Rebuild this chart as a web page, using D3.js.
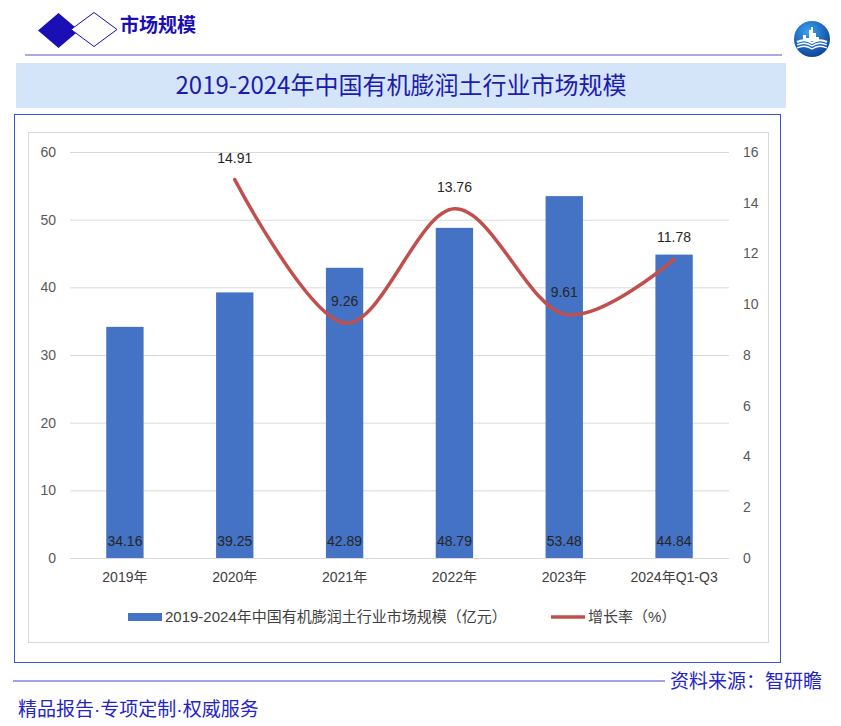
<!DOCTYPE html>
<html>
<head>
<meta charset="utf-8">
<script src="https://cdn.jsdelivr.net/npm/d3@7"></script>
<style>
  body { margin: 0; background: #fff; }
  text { font-family: "Liberation Sans", "Noto Sans CJK SC", sans-serif; }
  .cjk { font-family: "Noto Sans CJK SC", "Liberation Sans", sans-serif; }
</style>
</head>
<body>
<script>
// chart data
const years = ["2019年", "2020年", "2021年", "2022年", "2023年", "2024年Q1-Q3"];
const marketSize = [34.16, 39.25, 42.89, 48.79, 53.48, 44.84];
const growthRate = [null, 14.91, 9.26, 13.76, 9.61, 11.78];
const leftTicks = [0, 10, 20, 30, 40, 50, 60];
const rightTicks = [0, 2, 4, 6, 8, 10, 12, 14, 16];
const barName = "2019-2024年中国有机膨润土行业市场规模（亿元）";
const lineName = "增长率（%）";
const slogan = ["精品报告", "专项定制", "权威服务"];

let width = 841;
let height = 726;
let marginTop = 152;
let marginBottom = 168;
let marginLeft = 70;
let marginRight = 112;

let svg = d3.select("body").append("svg")
    .attr("width", width)
    .attr("height", height)
    .attr("viewBox", [0, 0, width, height]);

// header: diamonds, label, rule
svg.append("path")
    .attr("d", "M38,30.5 L58.5,13 L79,30.5 L58.5,48 Z")
    .attr("fill", "#1a0fb5");
svg.append("path")
    .attr("d", "M71,29.5 L94,12.5 L117,29.5 L94,46.5 Z")
    .attr("fill", "#fff")
    .attr("stroke", "#1a0fb5")
    .attr("stroke-width", 1);
svg.append("text")
    .attr("class", "cjk")
    .attr("x", 120)
    .attr("y", 32)
    .attr("fill", "#1a0fb5")
    .style("font-size", "19px")
    .style("font-weight", "bold")
    .text("市场规模");
svg.append("line")
    .attr("x1", 25).attr("x2", 782)
    .attr("y1", 55).attr("y2", 55)
    .attr("stroke", "#5656c8")
    .attr("stroke-width", 1);

// logo
let grad = svg.append("defs").append("radialGradient")
    .attr("id", "logoGrad")
    .attr("cx", "40%").attr("cy", "30%").attr("r", "75%");
grad.append("stop").attr("offset", "0%").attr("stop-color", "#3aa2ee");
grad.append("stop").attr("offset", "100%").attr("stop-color", "#0b3f97");
let logo = svg.append("g").attr("transform", "translate(812,39)");
logo.append("circle").attr("r", 18).attr("fill", "url(#logoGrad)");
logo.append("path")
    .attr("d", "M-9,2 L-9,-4 L-6,-4 L-6,-1 L-3,-1 L-3,-9 L-1,-9 L-1,-12 L1,-12 L1,-6 L4,-6 L4,-2 L7,-2 L7,2 Z")
    .attr("fill", "#fff");
[3, 6, 9].forEach((dy, i) => {
    logo.append("path")
        .attr("d", `M-15,${dy} Q-7,${dy - 4} 0,${dy + 1} Q7,${dy - 4} 15,${dy}`)
        .attr("fill", "none")
        .attr("stroke", "#fff")
        .attr("stroke-width", i === 0 ? 2 : 1.3);
});

// title box
svg.append("rect")
    .attr("x", 16).attr("y", 63)
    .attr("width", 770).attr("height", 45)
    .attr("fill", "#d5e5f9");
svg.append("text")
    .attr("class", "cjk")
    .attr("x", 401)
    .attr("y", 86)
    .attr("dy", "0.35em")
    .attr("text-anchor", "middle")
    .attr("fill", "#1c1cad")
    .style("font-size", "24px")
    .text("2019-2024年中国有机膨润土行业市场规模");

// outer and inner frames
svg.append("rect")
    .attr("x", 14.5).attr("y", 114.5)
    .attr("width", 766).attr("height", 548)
    .attr("fill", "none")
    .attr("stroke", "#3355d6")
    .attr("stroke-width", 1);
svg.append("rect")
    .attr("x", 28.5).attr("y", 132.5)
    .attr("width", 740).attr("height", 510)
    .attr("fill", "none")
    .attr("stroke", "#d9d9d9")
    .attr("stroke-width", 1);

// scales
let x = d3.scaleBand()
    .domain(years)
    .range([marginLeft, width - marginRight])
    .paddingInner(0.66)
    .paddingOuter(0.33);

let y = d3.scaleLinear()
    .domain([0, 60])
    .range([height - marginBottom, marginTop]);

let y2 = d3.scaleLinear()
    .domain([0, 16])
    .range([height - marginBottom, marginTop]);

// gridlines + left axis
svg.append("g")
    .attr("transform", `translate(${marginLeft},0)`)
    .call(d3.axisLeft(y).tickValues(leftTicks).tickSize(0).tickPadding(14))
    .call(g => g.select(".domain").remove())
    .call(g => g.selectAll(".tick line").clone()
        .attr("x2", width - marginLeft - marginRight)
        .attr("stroke", "#d9d9d9"))
    .call(g => g.selectAll("text")
        .attr("fill", "#595959")
        .style("font-size", "14px"));

// right axis
svg.append("g")
    .attr("transform", `translate(${width - marginRight},0)`)
    .call(d3.axisRight(y2).tickValues(rightTicks).tickSize(0).tickPadding(14))
    .call(g => g.select(".domain").remove())
    .call(g => g.selectAll("text")
        .attr("fill", "#595959")
        .style("font-size", "14px"));

// bottom axis labels
svg.append("g")
    .attr("transform", `translate(0,${height - marginBottom})`)
    .call(d3.axisBottom(x).tickSize(0).tickPadding(14))
    .call(g => g.select(".domain").remove())
    .call(g => g.selectAll("text")
        .attr("fill", "#404040")
        .style("font-size", "14px"));

// bars
svg.append("g")
    .selectAll("rect")
    .data(marketSize)
    .join("rect")
    .attr("x", (d, i) => x(years[i]))
    .attr("y", d => y(d))
    .attr("width", x.bandwidth())
    .attr("height", d => y(0) - y(d))
    .attr("fill", "#4472c4");

svg.append("g")
    .selectAll("text")
    .data(marketSize)
    .join("text")
    .attr("x", (d, i) => x(years[i]) + x.bandwidth() / 2)
    .attr("y", y(0) - 17)
    .attr("dy", "0.35em")
    .attr("text-anchor", "middle")
    .attr("fill", "#262626")
    .style("font-size", "14px")
    .text(d => d.toFixed(2));

// growth line
let points = growthRate
    .map((d, i) => ({ year: years[i], value: d }))
    .filter(d => d.value != null);

let line = d3.line()
    .x(d => x(d.year) + x.bandwidth() / 2)
    .y(d => y2(d.value))
    .curve(d3.curveCatmullRom.alpha(0));

svg.append("path")
    .datum(points)
    .attr("fill", "none")
    .attr("stroke", "#c0504d")
    .attr("stroke-width", 3.5)
    .attr("stroke-linecap", "round")
    .attr("d", line);

svg.append("g")
    .selectAll("text")
    .data(points)
    .join("text")
    .attr("x", d => x(d.year) + x.bandwidth() / 2)
    .attr("y", d => y2(d.value) - 22)
    .attr("dy", "0.35em")
    .attr("text-anchor", "middle")
    .attr("fill", "#262626")
    .style("font-size", "14px")
    .text(d => d.value.toFixed(2));

// legend
let legend = svg.append("g").attr("transform", "translate(0,617)");
legend.append("rect")
    .attr("x", 128).attr("y", -4)
    .attr("width", 34).attr("height", 8)
    .attr("fill", "#4472c4");
legend.append("text")
    .attr("x", 165)
    .attr("dy", "0.35em")
    .attr("fill", "#404040")
    .style("font-size", "15px")
    .text(barName);
legend.append("line")
    .attr("x1", 551).attr("x2", 585)
    .attr("stroke", "#c0504d")
    .attr("stroke-width", 3.5);
legend.append("text")
    .attr("x", 588)
    .attr("dy", "0.35em")
    .attr("fill", "#404040")
    .style("font-size", "15px")
    .text(lineName);

// footer
svg.append("line")
    .attr("x1", 13).attr("x2", 665)
    .attr("y1", 681).attr("y2", 681)
    .attr("stroke", "#4444d0")
    .attr("stroke-width", 1);
svg.append("text")
    .attr("class", "cjk")
    .attr("x", 822)
    .attr("y", 681)
    .attr("dy", "0.35em")
    .attr("text-anchor", "end")
    .attr("fill", "#2424c8")
    .style("font-size", "19px")
    .text("资料来源：智研瞻");

let footer = svg.append("text")
    .attr("class", "cjk")
    .attr("x", 18)
    .attr("y", 709)
    .attr("dy", "0.35em")
    .attr("fill", "#2424c8")
    .style("font-size", "19px");
slogan.forEach((s, i) => {
    if (i > 0) {
        footer.append("tspan")
            .style("font-family", "Liberation Sans")
            .text("·");
    }
    footer.append("tspan").text(s);
});
</script>
</body>
</html>
